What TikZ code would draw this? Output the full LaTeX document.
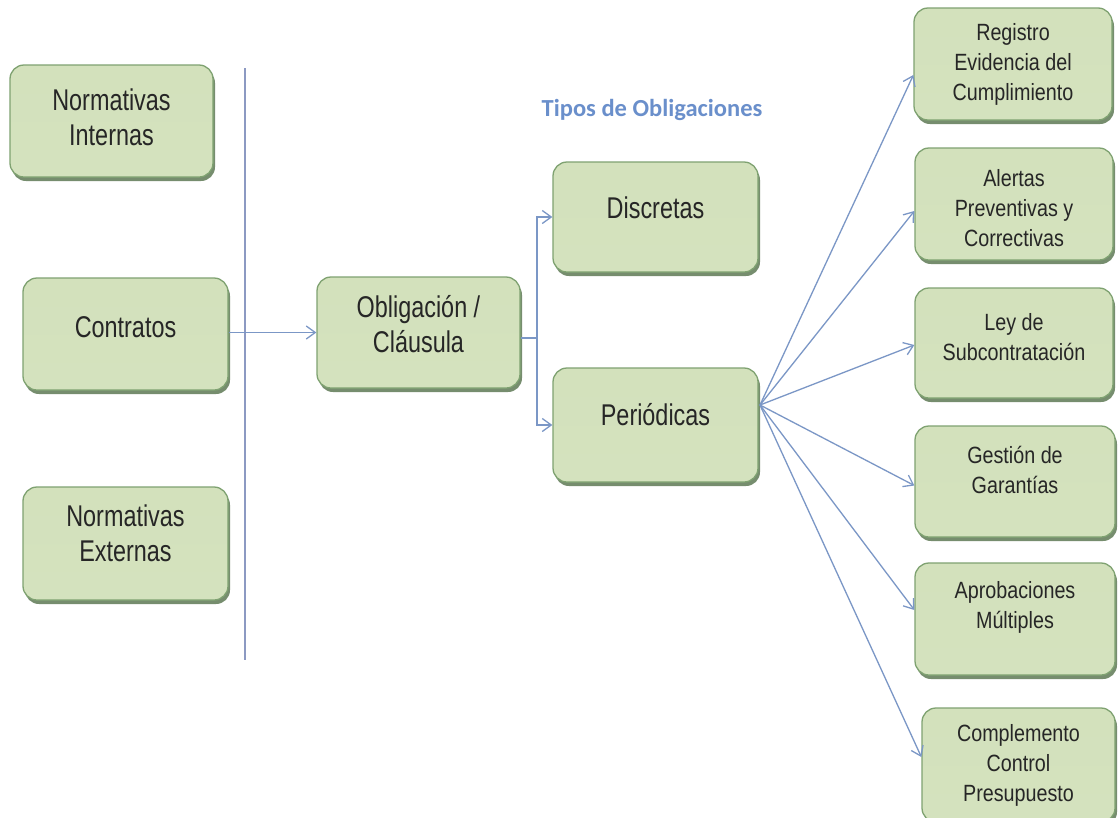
\documentclass[tikz,border=0pt]{standalone}
\usepackage{fontspec}
\setmainfont{Liberation Sans}
\newfontfamily\bigf{Liberation Sans}[FakeStretch=0.78]
\newfontfamily\smlf{Liberation Sans}[FakeStretch=0.84]
\newfontfamily\ttlf{Carlito}
\usetikzlibrary{arrows.meta,shadows}
\definecolor{boxtop}{HTML}{D3E1BC}
\definecolor{boxmid}{HTML}{E1EAD2}
\definecolor{boxbot}{HTML}{D4E2BE}
\definecolor{boxedge}{HTML}{7FA271}
\definecolor{shadowc}{HTML}{5F7A55}
\definecolor{linec}{HTML}{7B97C6}
\definecolor{vlinec}{HTML}{8C99C2}
\definecolor{titlec}{HTML}{6A8FCB}
\definecolor{txtc}{HTML}{262626}
\begin{document}
\begin{tikzpicture}[x=1pt,y=-1pt,
  box/.style 2 args={rounded corners=14pt, draw=boxedge, line width=1.3pt,
    top color=boxtop, middle color=boxmid, bottom color=boxbot,
    drop shadow={shadow xshift=2pt, shadow yshift=-4pt, fill=shadowc, opacity=0.85},
    inner sep=0pt, minimum width=#1pt, minimum height=#2pt},
  bigtxt/.style={text=txtc, align=center, font=\bigf\fontsize{30}{35}\selectfont},
  smltxt/.style={text=txtc, align=center, font=\smlf\fontsize{23.5}{30}\selectfont},
  conn/.style={draw=linec, line width=1.3pt, -{Straight Barb[length=9pt,width=13pt]}},
  plain/.style={draw=linec, line width=1.3pt}]
\fill[white] (0,0) rectangle (1118,817);
\useasboundingbox (0,0) rectangle (1118,817);
\clip (0,0) rectangle (1118,817);

% left column
\node[box={203}{112}] (ni) at (111.5,121) {};
\node[bigtxt] (nit) at ([yshift=4pt]ni.center) {Normativas\\Internas};
\node[box={205}{112}] (ct) at (125.5,334) {};
\node[bigtxt] (ctt) at ([yshift=7pt]ct.center) {Contratos};
\node[box={205}{113}] (ne) at (125.5,543.5) {};
\node[bigtxt] (net) at ([yshift=10pt]ne.center) {Normativas\\Externas};

% separator line
\coordinate (vt) at (245,68);
\coordinate (vb) at (245,660);
\draw[draw=vlinec, line width=1.8pt] (vt) -- (vb);

% middle
\node[box={203}{111}] (ob) at (418.5,332.5) {};
\node[bigtxt] (obt) at ([yshift=8pt]ob.center) {Obligación /\\Cláusula};
\node[box={205}{110}] (di) at (655.5,217) {};
\node[bigtxt] (dit) at ([yshift=9pt]di.center) {Discretas};
\node[box={205}{114}] (pe) at (655.5,425) {};
\node[bigtxt] (pet) at ([yshift=10pt]pe.center) {Periódicas};

\node[text=titlec, font=\ttlf\bfseries\fontsize{24.5}{28}\selectfont] (title) at (652,110) {Tipos de Obligaciones};

% right column
\node[box={198}{112}] (re) at (1013,64) {};
\node[smltxt] (ret) at (re.center) {Registro\\Evidencia del\\Cumplimiento};
\node[box={198}{112}] (al) at (1014,204) {};
\node[smltxt] (alt) at ([yshift=-4pt]al.center) {Alertas\\Preventivas y\\Correctivas};
\node[box={198}{110}] (le) at (1014,343) {};
\node[smltxt] (let) at ([yshift=6pt]le.center) {Ley de\\Subcontratación};
\node[box={200}{111}] (ge) at (1015,481.5) {};
\node[smltxt] (get) at ([yshift=12pt]ge.center) {Gestión de\\Garantías};
\node[box={200}{112}] (ap) at (1015,619) {};
\node[smltxt] (apt) at ([yshift=12pt]ap.center) {Aprobaciones\\Múltiples};
\node[box={193}{114}] (co) at (1018.5,765) {};
\node[smltxt] (cot) at (co.center) {Complemento\\Control\\Presupuesto};

% connectors
\draw[conn] (ct.east |- ob.west) -- (ob.west);
\coordinate (br) at (537,338);
\draw[plain] (ob.east |- br) -- (br);
\draw[conn] (br) |- (di.west);
\draw[conn] (br) |- (pe.west);

\coordinate (fan) at (760,405);
\draw[conn] (fan) -- ([yshift=-11pt]re.west);
\draw[conn] (fan) -- ([yshift=-7pt]al.west);
\draw[conn] (fan) -- ([yshift=-2pt]le.west);
\draw[conn] (fan) -- ([yshift=-4pt]ge.west);
\draw[conn] (fan) -- ([yshift=9pt]ap.west);
\draw[conn] (fan) -- ([yshift=8pt]co.west);
\end{tikzpicture}
\end{document}
